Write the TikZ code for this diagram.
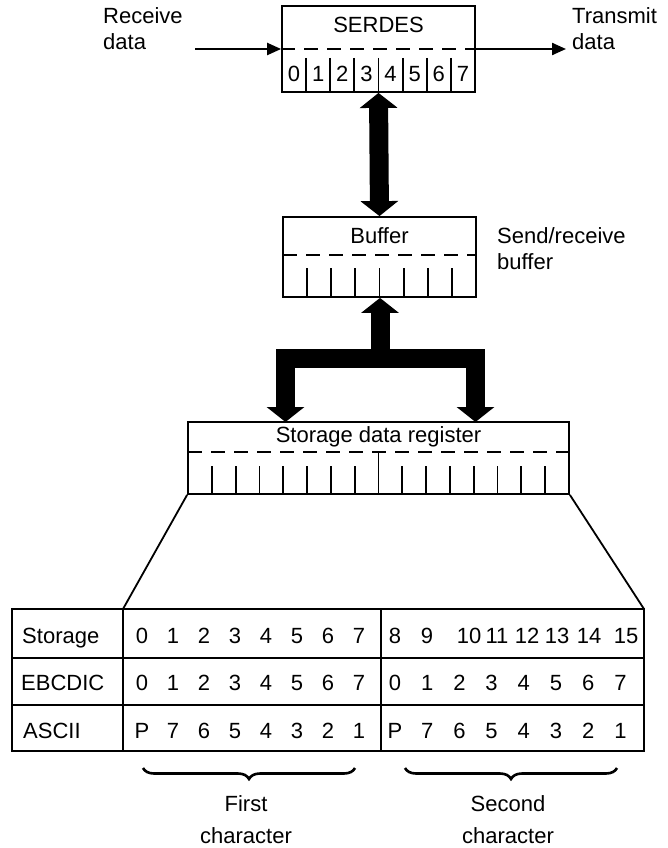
\documentclass[tikz,border=0pt]{standalone}
\usepackage{fontspec}
\setmainfont{Liberation Sans}
\usetikzlibrary{arrows.meta,decorations.pathreplacing}
\newcommand{\lbl}{\fontsize{22}{26}\selectfont}
\tikzset{
  regbox/.style={draw,line width=1.8pt,inner sep=0pt},
  dashline/.style={line width=1.8pt,dash pattern=on 14pt off 9pt},
  thinarrow/.style={line width=2.2pt,-{Triangle[length=14pt,width=12pt]}},
  fatarrow/.style={line width=19pt,line join=miter,>={Triangle[length=15pt,width=37pt]}},
  charbrace/.style={decorate,decoration={brace,mirror,amplitude=11pt},line width=2.6pt}
}
\begin{document}
\begin{tikzpicture}[x=1pt,y=-1pt,line width=1.8pt,every node/.append style={font=\lbl}]
   \useasboundingbox (0,0) rectangle (668,848);
   % SERDES
   \node[regbox,minimum width=193pt,minimum height=86pt] (serdes) at (378.5,49) {};
   \node (serdestxt) at (378.5,25) {SERDES};
   \draw[dashline] (serdes.west) -- (serdes.east);
   \foreach \i in {1,...,7} \draw (282+24.125*\i,58) -- (282+24.125*\i,92);
   \foreach \i in {0,...,7} \node (sd\i) at (294+24.125*\i,74) {\i};
   \coordinate (rxin) at (195,49);
   \coordinate (txout) at (566,49);
   \draw[thinarrow] (rxin) -- (serdes.west);
   \draw[thinarrow] (serdes.east) -- (txout);
   \node[align=left,anchor=west] (rxtxt) at (99,29) {Receive\\data};
   \node[align=left,anchor=west] (txtxt) at (568,29) {Transmit\\data};
   % buffer
   \node[regbox,minimum width=193pt,minimum height=80pt] (buffer) at (379.5,257) {};
   \node (buftxt) at (379.5,236) {Buffer};
   \draw[dashline] (283,255) -- (476,255);
   \foreach \i in {1,...,7} \draw (283+24.125*\i,268) -- (283+24.125*\i,297);
   \node[align=left,anchor=west] (sbtxt) at (493,249) {Send/receive\\buffer};
   \draw[fatarrow,<->] (serdes.south) -- (buffer.north);
   % storage data register
   \node[regbox,minimum width=381pt,minimum height=72pt] (sdr) at (378.5,458) {};
   \node (sdrtxt) at (378.5,437) {Storage data register};
   \draw[dashline] (188,452) -- (569,452);
   \foreach \i in {1,...,15} \draw (188+23.81*\i,466) -- (188+23.81*\i,494);
   \draw (188+23.81*8,452) -- (188+23.81*8,466);
   \coordinate (fork) at (380,358.5);
   \coordinate (inL) at (285.5,422);
   \coordinate (inR) at (475.5,422);
   \draw[fatarrow,->] (fork) -- (fork |- buffer.south);
   \draw[fatarrow,<->] (inL) |- (fork) -| (inR);
   % table
   \coordinate (tl) at (123,609);
   \coordinate (tr) at (644,609);
   \draw (sdr.south west) -- (tl);
   \draw (sdr.south east) -- (tr);
   \draw (12,609) rectangle (644,751);
   \draw (12,658) -- (644,658) (12,705) -- (644,705);
   \draw (tl) -- (123,751) (381,609) -- (381,751);
   \node[anchor=base west] (rstor) at (18,643) {Storage};
   \node[anchor=base west] (rebc) at (17,690) {EBCDIC};
   \node[anchor=base west] (rasc) at (19,738) {ASCII};
   \foreach \d in {0,...,7} {
      \node[anchor=base] (s\d) at (142+31*\d,643) {\d};
      \node[anchor=base] (e\d) at (142+31*\d,690) {\d};
      \node[anchor=base] (ee\d) at (395+32.2*\d,690) {\d};
   }
   \foreach \d/\x in {8/395,9/427,10/469,11/497,12/527,13/557,14/589,15/626}
      \node[anchor=base] (s\d) at (\x,643) {\d};
   \foreach \c [count=\k from 0] in {P,7,6,5,4,3,2,1} {
      \node[anchor=base] (a\k) at (142+31*\k,738) {\c};
      \node[anchor=base] (aa\k) at (395+32.2*\k,738) {\c};
   }
   % characters
   \draw[charbrace] (143,768) -- (355,768);
   \draw[charbrace] (405,768) -- (617,768);
   \node[align=center] (firstc) at (246,820) {First\\[6pt]character};
   \node[align=center] (secondc) at (508,820) {Second\\[6pt]character};
\end{tikzpicture}
\end{document}
